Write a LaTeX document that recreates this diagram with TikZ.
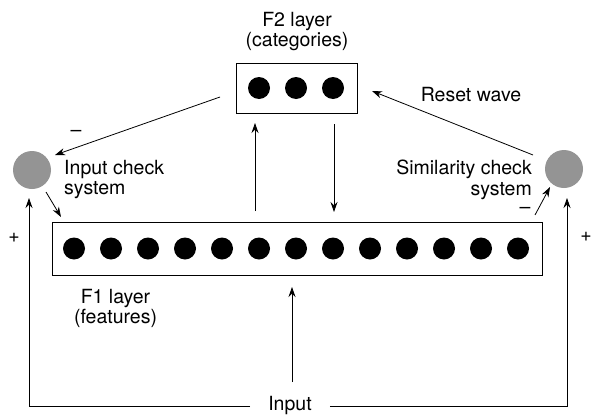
\documentclass[tikz,border=0pt]{standalone}
\usepackage{fontspec}
\setmainfont{TeX Gyre Heros}
\usetikzlibrary{arrows.meta}
\begin{document}
\begin{tikzpicture}[x=1pt,y=-1pt,
  lbl/.style={font=\fontsize{19.5}{20.5}\selectfont, inner sep=0pt},
  box/.style={draw, line width=0.9pt, inner sep=0pt},
  dot/.style={circle, fill=black, minimum size=22pt, inner sep=0pt},
  chk/.style={circle, fill=black!42, minimum size=38pt, inner sep=0pt},
  arr/.style={line width=0.8pt, -{Stealth[length=10pt,width=7pt]}},
  ln/.style={line width=0.8pt}]
\path[use as bounding box] (0,0) rectangle (591,415);
% layers
\node[box, minimum width=490pt, minimum height=53pt] (f1) at (297,248.5) {};
\foreach \i in {0,...,12} \node[dot] (d\i) at (74+37*\i, 248.5) {};
\node[box, minimum width=121pt, minimum height=50pt] (f2) at (296.5,88) {};
\node[dot] (e1) at (259,88) {};
\node[dot] (e2) at (296,88) {};
\node[dot] (e3) at (333,88) {};
% check systems
\node[chk] (lc) at (32,170) {};
\node[chk] (rc) at (564,169) {};
% labels
\node[lbl, align=center, anchor=north] (f2l) at (297,12) {F2 layer\\(categories)};
\node[lbl, align=center, anchor=north] (f1l) at (115.5,289) {F1 layer\\(features)};
\node[lbl, align=left, anchor=north west] (icl) at (64,160) {Input check\\system};
\node[lbl, align=right, anchor=north east] (scl) at (532,160) {Similarity check\\system};
\node[lbl] (rwl) at (471,95) {Reset wave};
\node[lbl] (m1) at (76,133) {–};
\node[lbl] (m2) at (525,210) {–};
\node[lbl] (p1) at (14,238) {+};
\node[lbl] (p2) at (586,237) {+};
\node[lbl, inner xsep=18pt] (in) at (290,406) {Input};
% coordinates
\coordinate (a1s) at (220,97);  \coordinate (a1e) at (55,155);
\coordinate (a2s) at (46,192);  \coordinate (a2e) at (61,217);
\coordinate (lcin) at (29,198);
\coordinate (rcin) at (567,198);
\coordinate (mid0) at (292,382); \coordinate (mid1) at (292,287);
\coordinate (up0) at (255,211);  \coordinate (up1) at (255,123);
\coordinate (dn0) at (334,124);  \coordinate (dn1) at (334,212);
\coordinate (rw0) at (533,155);  \coordinate (rw1) at (372,91);
\coordinate (b0) at (535,215);   \coordinate (b1) at (550,187);
% connectors
\draw[arr] (a1s) -- (a1e);
\draw[arr] (a2s) -- (a2e);
\draw[arr] (in.west) -| (lcin);
\draw[arr] (in.east) -| (rcin);
\draw[arr] (mid0) -- (mid1);
\draw[arr] (up0) -- (up1);
\draw[arr] (dn0) -- (dn1);
\draw[arr] (rw0) -- (rw1);
\draw[arr] (b0) -- (b1);
\end{tikzpicture}
\end{document}
